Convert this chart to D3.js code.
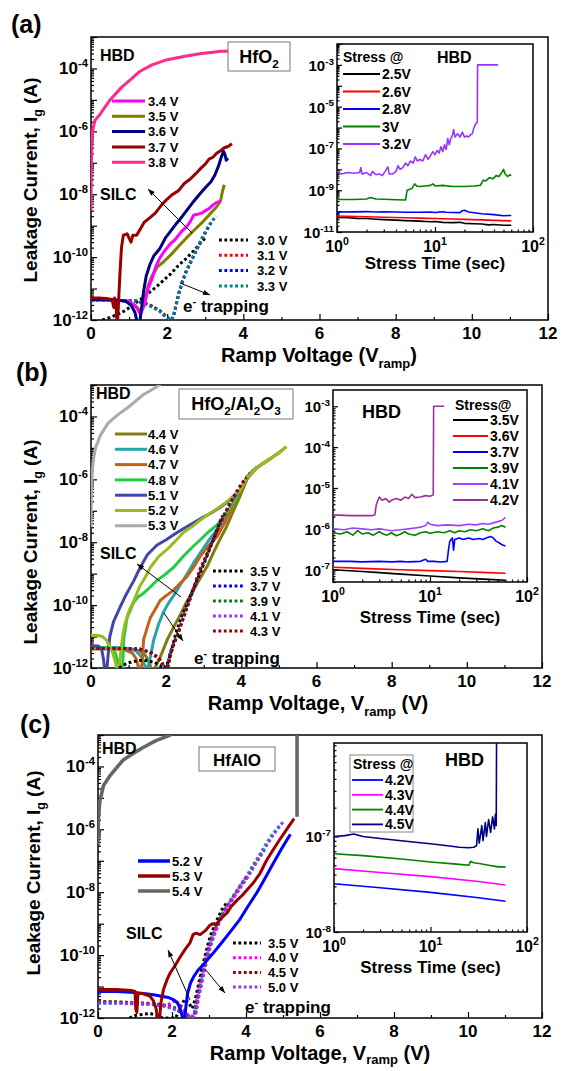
<!DOCTYPE html>
<html><head><meta charset="utf-8">
<script src="https://cdn.jsdelivr.net/npm/d3@7"></script>
<style>body{margin:0;background:#fff}svg text{font-family:"Liberation Sans",Arial,sans-serif;font-weight:bold;fill:#000}</style>
</head><body><script>
// ---------------- DATA ----------------
const xTicksMain=[0,2,4,6,8,10,12];
const yTickExpMain=[-12,-10,-8,-6,-4];
// panel (a) main: [V, I]
const aLabelsSolid=["3.4 V","3.5 V","3.6 V","3.7 V","3.8 V"];
const aLabelsDot=["3.0 V","3.1 V","3.2 V","3.3 V"];
const aV34=[[0,4.3e-12],[0.5,4.3e-12],[1.0,4e-12],[1.2,2.5e-12],[1.3,1.5e-12],[1.4,3e-12],[1.5,1e-11],[1.6,2e-11],[1.7,5e-11],[1.8,9e-11],[1.9,1.4e-10],[2.0,2e-10],[2.1,2.8e-10],[2.2,3.5e-10],[2.3,5e-10],[2.4,7e-10],[2.5,9e-10],[2.6,1.3e-9],[2.7,2.2e-9],[2.8,2.3e-9],[2.9,2.5e-9],[3.0,3e-9],[3.1,3.5e-9],[3.2,4.5e-9],[3.3,5.5e-9],[3.4,6e-9]];
const aV35=[[0,4.5e-12],[0.4,4.5e-12],[0.8,4.2e-12],[1.0,3.8e-12],[1.15,3e-12],[1.25,2.2e-12],[1.32,2e-12],[1.4,4e-12],[1.5,1.2e-11],[1.6,2.5e-11],[1.75,5e-11],[1.9,7e-11],[2.1,1.2e-10],[2.3,2.2e-10],[2.5,4e-10],[2.7,7e-10],[2.9,1.2e-9],[3.1,2.2e-9],[3.3,4e-9],[3.4,6e-9],[3.45,1.2e-8],[3.5,2e-8]];
const aV36=[[0,4.5e-12],[0.3,4.5e-12],[0.6,4.3e-12],[0.9,4e-12],[1.05,3e-12],[1.15,1.8e-12],[1.22,8e-13],[1.28,8e-13],[1.32,2e-12],[1.38,8e-12],[1.45,2.5e-11],[1.55,6e-11],[1.65,1.1e-10],[1.8,1.8e-10],[1.95,4e-10],[2.1,7e-10],[2.25,1.2e-9],[2.4,2e-9],[2.55,3.5e-9],[2.7,6e-9],[2.85,1e-8],[3.0,1.6e-8],[3.15,2.5e-8],[3.25,4e-8],[3.35,8e-8],[3.42,1.5e-7],[3.48,2.3e-7],[3.52,1.8e-7],[3.55,1.2e-7],[3.6,1.4e-7]];
const aV37=[[0,5e-12],[0.2,5e-12],[0.4,4.8e-12],[0.55,4.5e-12],[0.6,2.5e-12],[0.62,5e-12],[0.66,3e-12],[0.68,8e-13],[0.7,1e-12],[0.72,3e-12],[0.76,3e-11],[0.8,2e-10],[0.85,5e-10],[0.95,5.5e-10],[1.0,4e-10],[1.05,3e-10],[1.1,5e-10],[1.2,5e-10],[1.3,8e-10],[1.4,1.3e-9],[1.55,1.8e-9],[1.7,2.6e-9],[1.85,4.5e-9],[2.0,7e-9],[2.15,1e-8],[2.3,1.3e-8],[2.45,2.2e-8],[2.6,3e-8],[2.75,4.5e-8],[2.9,7e-8],[3.0,9e-8],[3.1,1.3e-7],[3.2,1.5e-7],[3.3,2e-7],[3.4,2.4e-7],[3.5,3e-7],[3.6,3.3e-7],[3.7,4e-7]];
const aV38=[[0,3e-9],[0.005,3e-8],[0.015,2e-7],[0.04,1e-6],[0.1,2.2e-6],[0.24,3.5e-6],[0.5,1e-5],[0.8,2.5e-5],[1.0,4e-5],[1.28,8e-5],[1.6,1.3e-4],[2.0,1.9e-4],[2.5,2.5e-4],[2.9,3e-4],[3.2,3.3e-4],[3.4,3.5e-4],[3.8,3.5e-4]];
const aV30=[[0.3,1e-12],[0.5,1.2e-12],[0.7,1.5e-12],[0.9,2e-12],[1.1,3e-12],[1.3,4.5e-12],[1.5,7e-12],[1.7,1.1e-11],[1.9,1.8e-11],[2.1,3e-11],[2.3,5.5e-11],[2.5,9e-11],[2.7,1.6e-10],[2.85,2.6e-10],[3.0,4e-10]];
const aV31=[[0,4.3e-12],[0.6,4.3e-12],[1.2,4e-12],[1.4,3.5e-12],[1.6,2.8e-12],[1.8,2e-12],[1.95,1.4e-12],[2.05,1.1e-12],[2.12,1e-12],[2.18,1.5e-12],[2.25,3.5e-12],[2.32,8e-12],[2.4,1.6e-11],[2.5,3.5e-11],[2.6,6e-11],[2.7,1.1e-10],[2.8,2e-10],[2.9,3.5e-10],[3.0,6e-10],[3.1,1e-9]];
const aV32=[[0,4.2e-12],[0.6,4.2e-12],[1.2,4e-12],[1.4,3.4e-12],[1.6,2.7e-12],[1.8,2e-12],[1.95,1.3e-12],[2.05,1.1e-12],[2.12,1e-12],[2.18,1.6e-12],[2.25,3.6e-12],[2.32,8e-12],[2.4,1.7e-11],[2.5,3.5e-11],[2.6,6.5e-11],[2.7,1.1e-10],[2.8,2e-10],[2.9,3.6e-10],[3.0,6e-10],[3.1,1e-9],[3.2,1.5e-9]];
const aV33=[[0,4.2e-12],[0.6,4.2e-12],[1.2,4e-12],[1.4,3.4e-12],[1.6,2.6e-12],[1.8,1.9e-12],[1.95,1.3e-12],[2.05,1.1e-12],[2.12,1e-12],[2.18,1.6e-12],[2.25,3.7e-12],[2.32,8.5e-12],[2.4,1.7e-11],[2.5,3.6e-11],[2.6,6.5e-11],[2.7,1.15e-10],[2.8,2.1e-10],[2.9,3.6e-10],[3.0,6.2e-10],[3.1,1e-9],[3.2,1.5e-9],[3.3,2e-9]];
// panel (a) inset: [t (s), I]
const aInsetLabels=["2.5V","2.6V","2.8V","3V","3.2V"];
const ia25=[[1,5e-11],[1.3,4.8e-11],[1.6,4.5e-11],[2,4.4e-11],[2.5,4.1e-11],[3,3.9e-11],[4,3.7e-11],[5,3.5e-11],[7,3.3e-11],[9,3.1e-11],[10,3.2e-11],[12,2.9e-11],[15,2.8e-11],[18,2.9e-11],[20,2.6e-11],[25,2.5e-11],[30,2.4e-11],[35,2.2e-11],[40,2.3e-11],[50,2.1e-11],[60,2.1e-11]];
const ia26=[[1,5.8e-11],[2,5.4e-11],[3,5.1e-11],[5,4.8e-11],[7,4.6e-11],[10,4.4e-11],[15,4.2e-11],[20,4e-11],[30,3.8e-11],[40,3.6e-11],[60,3.4e-11]];
const ia28=[[1,9e-11],[1.5,9.2e-11],[2,9.5e-11],[2.5,9e-11],[3,9.3e-11],[4,9e-11],[5,8.8e-11],[7,8.8e-11],[9,9e-11],[10,8.6e-11],[12,9.4e-11],[13,8.8e-11],[15,8.6e-11],[18,8.5e-11],[19,1.05e-10],[20,1.1e-10],[22,9e-11],[25,8.3e-11],[30,7.5e-11],[40,6.8e-11],[50,6e-11],[60,6.2e-11]];
const ia30=[[1,3.6e-10],[1.5,3.6e-10],[2,3.8e-10],[2.2,4.5e-10],[2.5,3.8e-10],[3,3.7e-10],[4,3.5e-10],[5,3.4e-10],[5.2,1e-9],[5.8,1.2e-9],[6.2,2e-9],[6.5,1.6e-9],[7,1.5e-9],[8,1.6e-9],[9,1.7e-9],[9.5,2e-9],[10,1.6e-9],[12,1.7e-9],[15,1.5e-9],[20,1.5e-9],[25,1.6e-9],[29,1.7e-9],[31,3e-9],[33,2.8e-9],[36,4e-9],[39,3.5e-9],[42,5e-9],[45,4.5e-9],[48,7e-9],[50,1e-8],[52,6e-9],[55,4.5e-9],[58,5.5e-9],[60,5e-9]];
const ia32=[[1,8e-9],[1.1,6e-9],[1.3,7e-9],[1.5,6.5e-9],[1.7,7e-9],[1.75,1.2e-8],[1.8,6e-9],[2.0,7e-9],[2.2,5e-9],[2.3,8e-9],[2.5,5.5e-9],[2.7,6e-9],[2.9,5e-9],[3.1,8e-9],[3.3,1.3e-8],[3.4,6e-9],[3.7,6e-9],[4.0,8e-9],[4.2,1.5e-8],[4.4,1e-8],[4.7,1.2e-8],[5.0,2e-8],[5.3,1.5e-8],[5.6,2.5e-8],[6.0,2e-8],[6.3,4e-8],[6.6,2.5e-8],[7.0,3e-8],[7.5,2.5e-8],[8.0,5e-8],[8.5,3e-8],[9.0,4.5e-8],[9.5,7e-8],[10,5e-8],[10.5,8e-8],[11,6e-8],[11.5,1.2e-7],[12,7e-8],[12.5,1.5e-7],[13,9e-8],[13.5,3e-7],[14,1.5e-7],[14.5,3e-7],[15,4e-7],[15.5,8e-7],[16,3.5e-7],[17,5e-7],[18,3.5e-7],[19,6e-7],[20,3.5e-7],[21,4e-7],[22,3.5e-7],[23,4.5e-7],[24,5e-7],[25,1e-6],[26,1.5e-6],[27,1.8e-6],[27.2,1e-3],[44,1e-3]];
// panel (b) main
const bLabelsSolid=["4.4 V","4.6 V","4.7 V","4.8 V","5.1 V","5.2 V","5.3 V"];
const bLabelsDot=["3.5 V","3.7 V","3.9 V","4.1 V","4.3 V"];
const bV44=[[0,4.5e-12],[0.5,4.5e-12],[1.0,4.2e-12],[1.3,3.5e-12],[1.45,2.5e-12],[1.55,1.5e-12],[1.62,8e-13],[1.7,1e-12],[1.84,2.2e-12],[2.03,8e-12],[2.2,2e-11],[2.38,5e-11],[2.55,1.3e-10],[2.73,3e-10],[2.9,7e-10],[3.1,1.8e-9],[3.27,5e-9],[3.44,1.3e-8],[3.6,3e-8],[3.79,1e-7],[3.97,3e-7],[4.15,1e-6],[4.4,2.3e-6]];
const bV46=[[0,4.5e-12],[0.6,4.5e-12],[1.0,4.2e-12],[1.2,3.5e-12],[1.35,2.2e-12],[1.43,1.2e-12],[1.48,8e-13],[1.55,1.5e-12],[1.67,8e-12],[1.8,2.5e-11],[1.93,6e-11],[2.07,1.2e-10],[2.2,2e-10],[2.38,4.5e-10],[2.56,1e-9],[2.73,2.2e-9],[2.91,4.6e-9],[3.1,1e-8],[3.36,2.6e-8],[3.56,6e-8],[3.79,1.8e-7],[3.97,4.5e-7],[4.15,1.2e-6],[4.4,2.3e-6],[4.6,3.4e-6]];
const bV47=[[0,4e-12],[0.5,4e-12],[0.9,3.8e-12],[1.1,3e-12],[1.2,2e-12],[1.27,1e-12],[1.32,8e-13],[1.36,1.5e-12],[1.4,8e-12],[1.5,2e-11],[1.58,4e-11],[1.7,7e-11],[1.84,1.4e-10],[2.0,2e-10],[2.2,3e-10],[2.38,5e-10],[2.55,8e-10],[2.73,1.6e-9],[2.91,3.6e-9],[3.1,7e-9],[3.35,1.5e-8],[3.55,4e-8],[3.79,1.6e-7],[3.97,4.5e-7],[4.15,1.2e-6],[4.4,2.3e-6],[4.7,4e-6]];
const bV48=[[0,4.5e-12],[0.3,4.5e-12],[0.55,4e-12],[0.65,3e-12],[0.72,1.5e-12],[0.78,8e-13],[0.84,1e-12],[0.87,8e-12],[0.92,2e-11],[0.96,4e-11],[1.05,7e-11],[1.13,1.2e-10],[1.25,1.8e-10],[1.4,2.4e-10],[1.55,3.5e-10],[1.75,6e-10],[2.0,1e-9],[2.2,1.6e-9],[2.4,3e-9],[2.55,4.6e-9],[2.75,8e-9],[2.91,1.2e-8],[3.1,2e-8],[3.35,3.5e-8],[3.55,7e-8],[3.78,1.8e-7],[3.97,4.5e-7],[4.15,1.2e-6],[4.4,2.3e-6],[4.7,4e-6],[4.8,4.8e-6]];
const bV51=[[0,5e-12],[0.2,5e-12],[0.28,4e-12],[0.33,2e-12],[0.37,8e-13],[0.42,8e-13],[0.46,3e-12],[0.5,1e-11],[0.6,3e-11],[0.78,9e-11],[0.9,1.8e-10],[1.0,3e-10],[1.14,6e-10],[1.3,1.5e-9],[1.5,4e-9],[1.75,8e-9],[2.0,1.2e-8],[2.25,1.9e-8],[2.5,2.9e-8],[2.9,5.5e-8],[3.2,8.5e-8],[3.44,1.3e-7],[3.6,1.8e-7],[3.8,2.7e-7],[4.0,5e-7],[4.15,1.1e-6],[4.4,2.3e-6],[4.7,4e-6],[5.0,7e-6],[5.1,8.5e-6]];
const bV52=[[0,1.1e-11],[0.15,1.1e-11],[0.3,1e-11],[0.4,8e-12],[0.5,5e-12],[0.58,3e-12],[0.65,1.5e-12],[0.7,8e-13],[0.75,1e-12],[0.8,4e-12],[0.85,1.2e-11],[0.91,2.7e-11],[1.0,6e-11],[1.14,1.4e-10],[1.3,4e-10],[1.45,8e-10],[1.58,1.6e-9],[1.8,3.5e-9],[2.03,6e-9],[2.25,1.1e-8],[2.45,2e-8],[2.7,3.2e-8],[2.9,5e-8],[3.15,8e-8],[3.35,1.15e-7],[3.55,1.7e-7],[3.75,2.7e-7],[3.97,4.5e-7],[4.15,1.1e-6],[4.4,2.3e-6],[4.7,4e-6],[5.0,7e-6],[5.2,1.1e-5]];
const bV53=[[0,3e-8],[0.01,3e-7],[0.03,1.5e-6],[0.06,4e-6],[0.12,1e-5],[0.25,2.5e-5],[0.45,6e-5],[0.7,1.1e-4],[1.0,2e-4],[1.4,5e-4],[1.7,8e-4],[1.9,1.2e-3]];
const bV35=[[0.75,1e-12],[0.9,1.3e-12],[1.1,1.6e-12],[1.4,1.8e-12],[1.7,1.5e-12],[1.95,1e-12],[2.05,1.5e-12],[2.15,4e-12],[2.25,1.2e-11],[2.4,4e-11],[2.56,1.1e-10],[2.73,3.5e-10],[2.91,1.1e-9],[3.1,4e-9],[3.27,1.3e-8],[3.4,3.5e-8],[3.5,7e-8]];
const bV37=[[0,4.2e-12],[0.8,4.2e-12],[1.3,4e-12],[1.6,3e-12],[1.8,2e-12],[1.9,1.3e-12],[1.97,9e-13],[2.02,1e-12],[2.1,3e-12],[2.2,6e-12],[2.29,1.1e-11],[2.42,3e-11],[2.56,9e-11],[2.73,3.5e-10],[2.91,1.4e-9],[3.1,4.5e-9],[3.36,2.5e-8],[3.56,8e-8],[3.7,1.8e-7]];
const bV39=[[0,4.2e-12],[0.8,4.2e-12],[1.3,4e-12],[1.6,3e-12],[1.8,2e-12],[1.9,1.3e-12],[1.98,9e-13],[2.03,1e-12],[2.1,2.8e-12],[2.2,6e-12],[2.29,1.1e-11],[2.42,3e-11],[2.56,9e-11],[2.73,3.4e-10],[2.91,1.4e-9],[3.1,4.6e-9],[3.36,2.5e-8],[3.56,8e-8],[3.79,2.7e-7],[3.9,4.5e-7]];
const bV41=[[0,4.2e-12],[0.8,4.2e-12],[1.3,4e-12],[1.6,3.1e-12],[1.8,2.1e-12],[1.9,1.4e-12],[1.98,9e-13],[2.04,1e-12],[2.12,2.8e-12],[2.2,5.5e-12],[2.3,1.1e-11],[2.42,3e-11],[2.56,8.7e-11],[2.73,3.3e-10],[2.91,1.4e-9],[3.1,4.5e-9],[3.36,2.5e-8],[3.56,8e-8],[3.79,2.7e-7],[4.0,7e-7],[4.1,1e-6]];
const bV43=[[0,4.2e-12],[0.8,4.2e-12],[1.3,4e-12],[1.6,3.1e-12],[1.8,2.1e-12],[1.9,1.4e-12],[1.98,9e-13],[2.04,1e-12],[2.12,2.6e-12],[2.2,5.5e-12],[2.3,1.1e-11],[2.42,2.9e-11],[2.56,8.7e-11],[2.73,3.3e-10],[2.91,1.4e-9],[3.1,4.5e-9],[3.36,2.4e-8],[3.56,8e-8],[3.79,2.7e-7],[4.0,7e-7],[4.24,1.6e-6],[4.3,2e-6]];
// panel (b) inset
const bInsetLabels=["3.5V","3.6V","3.7V","3.9V","4.1V","4.2V"];
const ib35=[[1,1e-7],[2,9e-8],[3,8.5e-8],[5,7.8e-8],[10,7e-8],[20,6.3e-8],[40,5.8e-8],[60,5.5e-8]];
const ib36=[[1,1.15e-7],[2,1.08e-7],[5,1e-7],[10,9.5e-8],[20,9e-8],[40,8.5e-8],[60,8.2e-8]];
const ib37=[[1,1.6e-7],[1.5,1.6e-7],[2,1.55e-7],[3,1.6e-7],[4,1.55e-7],[5,1.6e-7],[6,1.55e-7],[8,1.6e-7],[9,1.8e-7],[9.5,1.6e-7],[11,1.6e-7],[13,1.55e-7],[15,1.6e-7],[15.5,3e-7],[16,5e-7],[17,6e-7],[17.5,3e-7],[18,5.5e-7],[20,6e-7],[22,5.5e-7],[25,6e-7],[28,5.5e-7],[32,5.8e-7],[35,5.5e-7],[38,6e-7],[42,6.5e-7],[45,6e-7],[48,5e-7],[52,4.5e-7],[56,4e-7],[60,3.8e-7]];
const ib39=[[1,8e-7],[1.2,7.5e-7],[1.4,8.5e-7],[1.6,7e-7],[1.8,9e-7],[2,7.5e-7],[2.3,8e-7],[2.6,7e-7],[3,8.5e-7],[3.3,7.5e-7],[3.6,7e-7],[4,8e-7],[4.5,6.8e-7],[5,7.5e-7],[5.5,8.5e-7],[6,7.5e-7],[7,7e-7],[8,8e-7],[9,8.5e-7],[10,7.8e-7],[12,8.5e-7],[14,8e-7],[16,9e-7],[18,8e-7],[20,9e-7],[23,8.5e-7],[26,9.5e-7],[30,9e-7],[35,1e-6],[40,9e-7],[45,1.05e-6],[50,1.1e-6],[55,1.2e-6],[60,1.1e-6]];
const ib41=[[1,1e-6],[1.3,9.5e-7],[1.6,1.05e-6],[2,1e-6],[2.5,9.5e-7],[3,1e-6],[3.5,9.5e-7],[4,9e-7],[5,9.5e-7],[6,1e-6],[7,1.05e-6],[8,1.1e-6],[9,1.2e-6],[9.5,1.45e-6],[10,1.3e-6],[12,1.2e-6],[15,1.25e-6],[20,1.2e-6],[25,1.3e-6],[30,1.25e-6],[35,1.35e-6],[40,1.3e-6],[45,1.4e-6],[50,1.5e-6],[55,1.6e-6],[60,1.9e-6]];
const ib42=[[1,2.2e-6],[1.5,2.1e-6],[2,2.1e-6],[2.5,2.1e-6],[2.7,2.2e-6],[2.8,4e-6],[3,6e-6],[3.2,5e-6],[3.5,5.5e-6],[3.8,4.5e-6],[4,5e-6],[4.5,5.5e-6],[5,5e-6],[5.5,6e-6],[6,5.5e-6],[6.5,7e-6],[7,5.8e-6],[8,6e-6],[9,6.5e-6],[10,6.3e-6],[10.8,6.8e-6],[10.9,1e-3],[14,1e-3]];
// panel (c) main
const cLabelsSolid=["5.2 V","5.3 V","5.4 V"];
const cLabelsDot=["3.5 V","4.0 V","4.5 V","5.0 V"];
const cV52=[[0,7e-12],[0.5,7e-12],[1.0,6.5e-12],[1.5,5.5e-12],[1.9,4.5e-12],[2.05,3.8e-12],[2.15,3e-12],[2.22,2e-12],[2.27,1.2e-12],[2.3,8e-13],[2.34,8e-13],[2.37,2e-12],[2.42,6e-12],[2.5,1.3e-11],[2.6,2.2e-11],[2.72,3.5e-11],[2.85,5e-11],[2.95,7e-11],[3.15,1.3e-10],[3.38,2.8e-10],[3.6,6e-10],[3.84,1.4e-9],[4.05,3.5e-9],[4.3,1e-8],[4.5,2.6e-8],[4.73,8e-8],[4.95,2.3e-7],[5.2,7e-7]];
const cV53=[[0,8e-12],[0.5,8e-12],[0.9,7.5e-12],[1.0,7e-12],[1.02,2e-12],[1.05,1.5e-12],[1.08,6e-12],[1.2,6e-12],[1.4,5e-12],[1.5,3.5e-12],[1.57,2e-12],[1.62,8e-13],[1.66,8e-13],[1.7,3e-12],[1.77,8e-12],[1.86,1.6e-11],[1.95,2.7e-11],[2.1,5e-11],[2.22,8.7e-11],[2.35,1.5e-10],[2.49,2.5e-10],[2.57,4.5e-10],[2.65,5e-10],[2.76,4.5e-10],[2.9,6e-10],[3.03,9e-10],[3.1,1e-9],[3.2,9e-10],[3.3,1.4e-9],[3.49,2.2e-9],[3.6,3.5e-9],[3.76,5.6e-9],[3.9,8e-9],[4.03,1.2e-8],[4.2,2e-8],[4.38,4e-8],[4.55,1e-7],[4.73,2.2e-7],[4.9,4.5e-7],[5.1,1e-6],[5.3,2.2e-6]];
const cV54=[[0,3e-7],[0.01,2e-6],[0.05,8e-6],[0.15,2.5e-5],[0.32,5e-5],[0.5,9e-5],[0.68,1.6e-4],[0.95,2.6e-4],[1.22,4e-4],[1.55,6.5e-4],[1.95,1e-3],[2.05,1.4e-3],[5.38,1.4e-3],[5.38,2.5e-6]];
const cV35=[[0.85,1e-12],[1.0,1.2e-12],[1.2,1.3e-12],[1.4,1.4e-12],[1.6,1.2e-12],[1.75,1e-12],[2.1,1e-12],[2.25,2.5e-12],[2.35,4e-12],[2.45,3e-12],[2.55,2e-12],[2.65,5e-12],[2.75,1.8e-11],[2.85,6e-11],[2.95,1.8e-10],[3.05,4.5e-10],[3.2,1.2e-9],[3.35,2.8e-9],[3.5,5e-9]];
const cV40=[[0,3.2e-12],[0.5,3.1e-12],[1.0,3e-12],[1.5,2.8e-12],[1.8,2.5e-12],[2.0,3e-12],[2.1,3.8e-12],[2.2,2.5e-12],[2.35,1.6e-12],[2.45,1.2e-12],[2.55,1e-12],[2.62,1.5e-12],[2.7,5e-12],[2.8,1.8e-11],[2.9,6e-11],[3.0,1.7e-10],[3.1,4e-10],[3.25,1.1e-9],[3.45,3e-9],[3.65,7e-9],[3.85,1.6e-8],[4.0,3e-8]];
const cV45=[[0,3.3e-12],[0.5,3.2e-12],[1.0,3e-12],[1.5,2.8e-12],[1.8,2.5e-12],[2.0,2.2e-12],[2.2,1.8e-12],[2.35,1.4e-12],[2.45,1.1e-12],[2.55,1e-12],[2.64,1.5e-12],[2.72,5e-12],[2.82,1.8e-11],[2.92,6e-11],[3.02,1.7e-10],[3.12,4e-10],[3.27,1.1e-9],[3.47,3e-9],[3.67,7e-9],[3.87,1.6e-8],[4.05,3.2e-8],[4.22,7e-8],[4.4,1.5e-7],[4.5,2.2e-7]];
const cV50=[[0,3e-12],[0.5,3e-12],[1.0,2.9e-12],[1.5,2.7e-12],[1.8,2.4e-12],[2.0,2.1e-12],[2.2,1.7e-12],[2.35,1.3e-12],[2.45,1.1e-12],[2.55,1e-12],[2.65,1.4e-12],[2.73,5e-12],[2.83,1.8e-11],[2.93,6e-11],[3.03,1.7e-10],[3.13,4e-10],[3.28,1.1e-9],[3.48,3e-9],[3.68,7e-9],[3.88,1.6e-8],[4.06,3.2e-8],[4.23,7e-8],[4.4,1.5e-7],[4.57,3.3e-7],[4.75,7e-7],[4.92,1.3e-6],[5.0,1.7e-6]];
const cExtraA=[[0,3.4e-12],[0.5,3.3e-12],[1.0,3.1e-12],[1.5,2.9e-12],[1.8,2.6e-12],[2.0,2.3e-12],[2.2,1.9e-12],[2.4,1.3e-12],[2.5,1e-12],[2.6,1.5e-12],[2.68,5e-12],[2.78,1.8e-11],[2.88,6e-11],[2.98,1.7e-10],[3.08,4e-10],[3.23,1.1e-9],[3.43,3e-9],[3.63,7e-9],[3.83,1.6e-8],[4.01,3.2e-8],[4.18,7e-8],[4.36,1.5e-7],[4.53,3.3e-7],[4.71,7e-7],[4.8,9e-7]];
const cExtraB=[[0,2.9e-12],[0.5,2.9e-12],[1.0,2.8e-12],[1.5,2.6e-12],[1.8,2.3e-12],[2.0,2e-12],[2.2,1.6e-12],[2.4,1.2e-12],[2.52,1e-12],[2.62,1.3e-12],[2.7,5e-12],[2.8,1.8e-11],[2.9,6e-11],[3.0,1.7e-10],[3.1,4e-10],[3.25,1.1e-9],[3.45,3e-9],[3.65,7e-9],[3.85,1.6e-8],[4.03,3.2e-8],[4.2,7e-8],[4.38,1.5e-7],[4.55,3.3e-7],[4.73,7e-7],[4.9,1.3e-6]];
// panel (c) inset
const cInsetLabels=["4.2V","4.3V","4.4V","4.5V"];
const ic42=[[1,3.2e-8],[3,2.9e-8],[10,2.6e-8],[30,2.3e-8],[60,2.1e-8]];
const ic43=[[1,4.6e-8],[3,4.2e-8],[10,3.8e-8],[30,3.4e-8],[60,3.1e-8]];
const ic44=[[1,6.6e-8],[2,6.3e-8],[5,5.8e-8],[10,5.4e-8],[20,5.1e-8],[25,5e-8],[26,5.5e-8],[28,5.3e-8],[32,5.2e-8],[40,5e-8],[50,4.8e-8],[60,4.8e-8]];
const ic45=[[1,1e-7],[1.3,1.02e-7],[1.6,1.06e-7],[2,1e-7],[3,9.5e-8],[5,9e-8],[7,8.7e-8],[10,8.4e-8],[15,8e-8],[20,7.7e-8],[25,7.6e-8],[28,7.7e-8],[30,8e-8],[31,1.2e-7],[32,8.5e-8],[34,1.3e-7],[35,9e-8],[37,1.4e-7],[38,1e-7],[40,1.5e-7],[42,1.1e-7],[44,1.6e-7],[46,1.2e-7],[47,1.7e-7],[48,1.3e-7],[48.5,2e-6]];

// ---------------- DRAWING ----------------
const svg=d3.select("body").append("svg").attr("width",561).attr("height",1071);
let clipN=0;
function minorVals(lo,hi){const o=[];for(let e=lo;e<hi;e++)for(let k=2;k<=9;k++)o.push(k*Math.pow(10,e));return o;}
function decades(lo,hi){const o=[];for(let e=lo;e<=hi;e++)o.push(Math.pow(10,e));return o;}
function supText(g,x,y,exp,fs,anchor){
  const t=g.append("text").attr("x",x).attr("y",y).attr("font-size",fs).attr("text-anchor",anchor).text("10");
  t.append("tspan").attr("dy",-fs*0.42).attr("font-size",fs*0.66).text(exp);
  return t;
}
function axisSet(g,x,y,xMaj,xMin,yMaj,yMin,majLen,minLen){
  const [B,T]=y.range(),[L,R]=x.range();
  const fix=s=>{s.select(".domain").remove();s.selectAll("line").attr("stroke-width",1.2);};
  g.append("g").attr("transform",`translate(0,${B})`).call(d3.axisBottom(x).tickValues(xMaj).tickSize(-majLen).tickFormat("")).call(fix);
  g.append("g").attr("transform",`translate(0,${B})`).call(d3.axisBottom(x).tickValues(xMin).tickSize(-minLen).tickFormat("")).call(fix);
  g.append("g").attr("transform",`translate(${L},0)`).call(d3.axisLeft(y).tickValues(yMaj).tickSize(-majLen).tickFormat("")).call(fix);
  g.append("g").attr("transform",`translate(${L},0)`).call(d3.axisLeft(y).tickValues(yMin).tickSize(-minLen).tickFormat("")).call(fix);
}
function frame(g,x,y,fill){
  const [B,T]=y.range(),[L,R]=x.range();
  return g.append("rect").attr("x",L).attr("y",T).attr("width",R-L).attr("height",B-T).attr("fill",fill||"none").attr("stroke","#000").attr("stroke-width",1.5);
}
function clipFor(x,y){
  const [B,T]=y.range(),[L,R]=x.range();const id="clip"+(clipN++);
  svg.append("clipPath").attr("id",id).append("rect").attr("x",L).attr("y",T).attr("width",R-L).attr("height",B-T);
  return "url(#"+id+")";
}
function drawLine(g,x,y,data,color,w,dotted,clip){
  const line=d3.line().x(d=>x(d[0])).y(d=>y(d[1]));
  const p=g.append("path").datum(data).attr("d",line).attr("fill","none").attr("stroke",color).attr("stroke-width",w).attr("stroke-linejoin","round").attr("clip-path",clip);
  if(dotted)p.attr("stroke-dasharray","2.8,2.6");
  return p;
}
function legendItem(g,x1,x2,y,color,w,dotted,label,fs,tx){
  const l=g.append("line").attr("x1",x1).attr("x2",x2).attr("y1",y).attr("y2",y).attr("stroke",color).attr("stroke-width",w);
  if(dotted)l.attr("stroke-dasharray","2.8,2.6");
  g.append("text").attr("x",tx).attr("y",y+fs*0.36).attr("font-size",fs).text(label);
}
function arrow(g,x1,y1,x2,y2){
  g.append("line").attr("x1",x1).attr("y1",y1).attr("x2",x2).attr("y2",y2).attr("stroke","#000").attr("stroke-width",1);
  const a=Math.atan2(y2-y1,x2-x1),L=7,hw=2.6;
  const p=[[x2,y2],[x2-L*Math.cos(a)+hw*Math.sin(a),y2-L*Math.sin(a)-hw*Math.cos(a)],[x2-L*Math.cos(a)-hw*Math.sin(a),y2-L*Math.sin(a)+hw*Math.cos(a)]];
  g.append("path").attr("d","M"+p.map(q=>q.join(",")).join("L")+"Z").attr("fill","#000");
}
function subText(g,x,y,fs,parts,anchor,rot,subOff){
  const t=g.append("text").attr("x",x).attr("y",y).attr("font-size",fs).attr("text-anchor",anchor||"start");
  if(rot)t.attr("transform",`rotate(-90,${x},${y})`);
  let cur=0;
  parts.forEach(([s,m])=>{
    const off=m===1?fs*(subOff||0.28):(m===2?-fs*0.42:0);
    const ts=t.append("tspan").attr("dy",off-cur).text(s);
    if(m)ts.attr("font-size",fs*0.65);
    cur=off;
  });
  return t;
}
function mainPanel(cfg){
  const g=svg.append("g");
  const x=d3.scaleLinear().domain([0,12]).range([cfg.L,cfg.R]);
  const y=d3.scaleLog().domain([1e-12,1e-3]).range([cfg.B,cfg.T]);
  axisSet(g,x,y,xTicksMain,[1,3,5,7,9,11],decades(-12,-3),minorVals(-12,-3),6,3);
  xTicksMain.forEach(v=>g.append("text").attr("x",x(v)).attr("y",cfg.B+19).attr("font-size",17).attr("text-anchor","middle").text(v));
  yTickExpMain.forEach(e=>supText(g,cfg.L-3,y(Math.pow(10,e))+6,String(e),17,"end"));
  frame(g,x,y);
  return {g,x,y,clip:clipFor(x,y)};
}
function inset(cfg){
  const g=svg.append("g");
  const x=d3.scaleLog().domain([1,100]).range([cfg.L,cfg.R]);
  const y=d3.scaleLog().domain(cfg.yd).range([cfg.B,cfg.T]);
  frame(g,x,y,"#fff");
  axisSet(g,x,y,[1,10,100],minorVals(0,2),cfg.ymaj,cfg.ymin,5,2.5);
  [0,1,2].forEach(e=>supText(g,x(Math.pow(10,e)),cfg.B+20,String(e),16,"middle"));
  cfg.ylab.forEach(e=>supText(g,cfg.L-3,y(Math.pow(10,e))+6,String(e),15,"end"));
  g.append("text").attr("x",(cfg.L+cfg.R)/2).attr("y",cfg.titleY).attr("font-size",17).attr("text-anchor","middle").text("Stress Time (sec)");
  return {g,x,y,clip:clipFor(x,y)};
}
function yTitle(cx,cy){
  subText(svg,cx,cy,19,[["Leakage Current, I",0],["g",1],[" (A)",0]],"middle",true);
}

// ===== Panel (a) =====
svg.append("text").attr("x",11).attr("y",33).attr("font-size",25).text("(a)");
const pa=mainPanel({L:91,R:548,T:37,B:320});
yTitle(37,180);
subText(svg,319,362,20,[["Ramp Voltage (V",0],["ramp",1],[")",0]],"middle");
const aSolid=[[aV34,"#ff00ff"],[aV35,"#808000"],[aV36,"#000080"],[aV37,"#990000"],[aV38,"#ff2a8a"]];
const aDot=[[aV30,"#000000"],[aV31,"#ff0000"],[aV32,"#0000ff"],[aV33,"#008080"]];
aDot.forEach(([d,c])=>drawLine(pa.g,pa.x,pa.y,d,c,3,true,pa.clip));
[aSolid[1],aSolid[0],aSolid[2],aSolid[3],aSolid[4]].forEach(([d,c])=>drawLine(pa.g,pa.x,pa.y,d,c,3,false,pa.clip));
aSolid.forEach(([d,c],i)=>legendItem(svg,112,145,101+i*15.3,c,3,false,aLabelsSolid[i],13,148));
aDot.forEach(([d,c],i)=>legendItem(svg,219,248,240+i*15.3,c,3,true,aLabelsDot[i],13,257));
svg.append("text").attr("x",100).attr("y",61).attr("font-size",16).text("HBD");
svg.append("rect").attr("x",228).attr("y",42).attr("width",62).attr("height",29).attr("fill","#fff").attr("stroke","#777").attr("stroke-width",1);
subText(svg,259,63,18,[["HfO",0],["2",1]],"middle");
svg.append("text").attr("x",100).attr("y",200).attr("font-size",16).text("SILC");
arrow(svg,192,233,148,189);
arrow(svg,180,283,210,295);
subText(svg,183,312,17,[["e",0],["-",2],[" trapping",0]],"start");
// inset (a)
const ia=inset({L:337,R:533,T:44,B:232,yd:[1e-11,1e-2],ymaj:decades(-11,-2),ymin:minorVals(-11,-2),ylab:[-11,-9,-7,-5,-3],titleY:269});
const aIns=[[ia25,"#000000"],[ia26,"#ff0000"],[ia28,"#0000ff"],[ia30,"#008000"],[ia32,"#9933ff"]];
aIns.forEach(([d,c])=>drawLine(ia.g,ia.x,ia.y,d,c,1.6,false,ia.clip));
aIns.forEach(([d,c],i)=>legendItem(svg,343,380,74+i*17.5,c,1.8,false,aInsetLabels[i],14,382));
svg.append("text").attr("x",343).attr("y",62).attr("font-size",14).text("Stress @");
svg.append("text").attr("x",437).attr("y",63).attr("font-size",16).text("HBD");

// ===== Panel (b) =====
svg.append("text").attr("x",16).attr("y",381).attr("font-size",25).text("(b)");
const pb=mainPanel({L:91,R:542,T:385,B:668});
yTitle(37,542);
subText(svg,318,710,20,[["Ramp Voltage, V",0],["ramp",1],[" (V)",0]],"middle");
const bSolid=[[bV44,"#857a12"],[bV46,"#22a5ad"],[bV47,"#c0641a"],[bV48,"#22cc44"],[bV51,"#4444aa"],[bV52,"#99bb22"],[bV53,"#aaaaaa"]];
const bDot=[[bV35,"#000000"],[bV37,"#0000ff"],[bV39,"#008000"],[bV41,"#9933ff"],[bV43,"#990000"]];
bSolid.forEach(([d,c])=>drawLine(pb.g,pb.x,pb.y,d,c,3,false,pb.clip));
bDot.forEach(([d,c])=>drawLine(pb.g,pb.x,pb.y,d,c,3,true,pb.clip));
drawLine(pb.g,pb.x,pb.y,bV52.slice(-5),"#99bb22",3,false,pb.clip);
bSolid.forEach(([d,c],i)=>legendItem(svg,115,147,434+i*15.3,c,3,false,bLabelsSolid[i],13,148));
bDot.forEach(([d,c],i)=>legendItem(svg,213,243,571+i*15,c,3,true,bLabelsDot[i],13,250));
svg.append("text").attr("x",96).attr("y",399).attr("font-size",16).text("HBD");
svg.append("rect").attr("x",179).attr("y",389).attr("width",114).attr("height",30).attr("fill","#fff").attr("stroke","#777").attr("stroke-width",1);
subText(svg,236,410,18,[["HfO",0],["2",1],["/Al",0],["2",1],["O",0],["3",1]],"middle");
svg.append("text").attr("x",100).attr("y",559).attr("font-size",16).text("SILC");
arrow(svg,181,597,137,564);
arrow(svg,164,613,183,641);
subText(svg,194,664,17,[["e",0],["-",2],[" trapping",0]],"start");
// inset (b)
const ib=inset({L:333,R:527,T:390,B:582,yd:[5e-8,2.5e-3],ymaj:decades(-7,-3),ymin:minorVals(-8,-3).filter(v=>v>=5e-8&&v<=2.5e-3),ylab:[-7,-6,-5,-4,-3],titleY:623});
const bIns=[[ib35,"#000000"],[ib36,"#ff0000"],[ib37,"#0000ff"],[ib39,"#008000"],[ib41,"#a040ff"],[ib42,"#993399"]];
bIns.forEach(([d,c])=>drawLine(ib.g,ib.x,ib.y,d,c,1.6,false,ib.clip));
bIns.forEach(([d,c],i)=>legendItem(svg,453,488,420+i*16,c,1.8,false,bInsetLabels[i],14,490));
svg.append("text").attr("x",455).attr("y",410).attr("font-size",14).text("Stress@");
svg.append("text").attr("x",362).attr("y",418).attr("font-size",18).text("HBD");

// ===== Panel (c) =====
svg.append("text").attr("x",20).attr("y",733).attr("font-size",25).text("(c)");
const pc=mainPanel({L:98,R:542,T:735,B:1018});
yTitle(40,873);
subText(svg,320,1060,20,[["Ramp Voltage, V",0],["ramp",1],[" (V)",0]],"middle",false,0.22);
const cDot=[[cV35,"#000000"],[cV40,"#ff00ff"],[cV45,"#990000"],[cV50,"#9933ff"]];
const cExtra=[[cExtraA,"#22aa22"],[cExtraB,"#00bbcc"]];
cExtra.forEach(([d,c])=>drawLine(pc.g,pc.x,pc.y,d,c,3,true,pc.clip));
cDot.forEach(([d,c])=>drawLine(pc.g,pc.x,pc.y,d,c,3,true,pc.clip));
const cSolid=[[cV52,"#0000ff"],[cV53,"#990000"],[cV54,"#666666"]];
cSolid.forEach(([d,c])=>drawLine(pc.g,pc.x,pc.y,d,c,c==="#666666"?3.6:3,false,pc.clip));
cSolid.forEach(([d,c],i)=>legendItem(svg,138,170,861+i*15,c,3.5,false,cLabelsSolid[i],13,172));
cDot.forEach(([d,c],i)=>legendItem(svg,233,261,943+i*14.7,c,3,true,cLabelsDot[i],13,268));
svg.append("text").attr("x",102).attr("y",754).attr("font-size",16).text("HBD");
svg.append("rect").attr("x",199).attr("y",747).attr("width",76).attr("height",24).attr("fill","#fff").attr("stroke","#777").attr("stroke-width",1);
svg.append("text").attr("x",237).attr("y",766).attr("font-size",17).attr("text-anchor","middle").text("HfAlO");
svg.append("text").attr("x",126).attr("y",939).attr("font-size",16).text("SILC");
arrow(svg,190,1000,168,950);
arrow(svg,205,969,225,993);
subText(svg,245,1013,17,[["e",0],["-",2],[" trapping",0]],"start");
// inset (c)
const ic=inset({L:334,R:527,T:743,B:932,yd:[1e-8,9.5e-7],ymaj:decades(-8,-7),ymin:minorVals(-8,-6).filter(v=>v<=9.5e-7),ylab:[-8,-7],titleY:973});
const cIns=[[ic42,"#0000ff"],[ic43,"#ff00ff"],[ic44,"#008000"],[ic45,"#000080"]];
cIns.forEach(([d,c])=>drawLine(ic.g,ic.x,ic.y,d,c,1.6,false,ic.clip));
svg.append("rect").attr("x",350).attr("y",755).attr("width",63).attr("height",77).attr("fill","#fff").attr("stroke","#888").attr("stroke-width",1);
svg.append("text").attr("x",353).attr("y",769).attr("font-size",14).text("Stress @");
cIns.forEach(([d,c],i)=>legendItem(svg,352,383,780+i*14.8,c,1.8,false,cInsetLabels[i],14,385));
svg.append("text").attr("x",445).attr("y",766).attr("font-size",18).text("HBD");
</script></body></html>
